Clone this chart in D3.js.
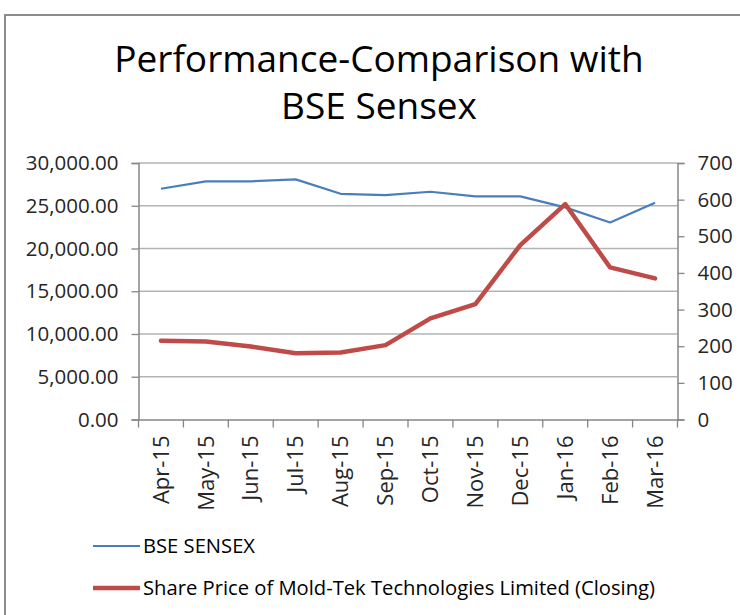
<!DOCTYPE html>
<html>
<head>
<meta charset="utf-8">
<script src="https://cdn.jsdelivr.net/npm/d3@7"></script>
<style>
  body { margin: 0; background: #fff; }
  svg { display: block; font-family: "Open Sans", sans-serif; }
</style>
</head>
<body>
<div id="chart"></div>
<script>
var months = ["Apr-15", "May-15", "Jun-15", "Jul-15", "Aug-15", "Sep-15",
              "Oct-15", "Nov-15", "Dec-15", "Jan-16", "Feb-16", "Mar-16"]
var sensex = [26990, 27860, 27860, 28090, 26400, 26250, 26640, 26100, 26100, 24810, 23050, 25350]
var sharePrice = [215, 213, 199, 181, 183, 203, 276, 315, 476, 588, 415, 385]
var leftTicks = [0, 5000, 10000, 15000, 20000, 25000, 30000]
var rightTicks = [0, 100, 200, 300, 400, 500, 600, 700]
var titleLines = ["Performance-Comparison with", "BSE Sensex"]
var seriesNames = ["BSE SENSEX", "Share Price of Mold-Tek Technologies Limited (Closing)"]

var w = 740, h = 615
var plotLeft = 138.5, plotRight = 677.5, plotTop = 163, plotBottom = 419.5
var blue = "#4a7ebb", red = "#be4b48", axisCol = "#868686", gridCol = "#b3b3b3"
var tickFont = 20.5

var svg = d3.select("#chart").append("svg")
  .attr("width", w)
  .attr("height", h)

// chart frame
svg.append("rect")
  .attr("x", 5).attr("y", 15)
  .attr("width", w + 20).attr("height", h + 20)
  .attr("fill", "none")
  .attr("stroke", "#8c8c8c")
  .attr("stroke-width", 2)

// title
svg.selectAll(".title")
  .data(titleLines)
  .enter().append("text")
  .attr("class", "title")
  .attr("x", 379)
  .attr("y", function(d, i) { return 72 + i * 47 })
  .attr("text-anchor", "middle")
  .attr("font-size", 37)
  .attr("fill", "#000")
  .text(function(d) { return d })

var x = d3.scaleBand().domain(months).range([plotLeft, plotRight])
var yL = d3.scaleLinear().domain([0, 30000]).range([plotBottom, plotTop])
var yR = d3.scaleLinear().domain([0, 700]).range([plotBottom, plotTop])

// gridlines
svg.append("g")
  .selectAll("line")
  .data(leftTicks.slice(1))
  .enter().append("line")
  .attr("x1", plotLeft).attr("x2", plotRight)
  .attr("y1", function(d) { return yL(d) })
  .attr("y2", function(d) { return yL(d) })
  .attr("stroke", gridCol)
  .attr("stroke-width", 1.3)

// left axis
var gl = svg.append("g")
  .attr("transform", "translate(" + plotLeft + ",0)")
  .call(d3.axisLeft(yL).tickValues(leftTicks).tickFormat(d3.format(",.2f")).tickSize(7).tickPadding(13))
gl.select(".domain").attr("stroke", axisCol).attr("stroke-width", 1.5)
gl.selectAll(".tick line").attr("stroke", axisCol).attr("stroke-width", 1.3)
gl.selectAll(".tick text").attr("font-size", tickFont).attr("fill", "#262626").attr("font-family", "Open Sans")

// right axis
var gr = svg.append("g")
  .attr("transform", "translate(" + plotRight + ",0)")
  .call(d3.axisRight(yR).tickValues(rightTicks).tickSize(7).tickPadding(13))
gr.select(".domain").attr("stroke", axisCol).attr("stroke-width", 1.5)
gr.selectAll(".tick line").attr("stroke", axisCol).attr("stroke-width", 1.3)
gr.selectAll(".tick text").attr("font-size", tickFont).attr("fill", "#262626").attr("font-family", "Open Sans")

// bottom axis: labels at band centers, ticks between categories
var gb = svg.append("g")
  .attr("transform", "translate(0," + plotBottom + ")")
  .call(d3.axisBottom(x).tickSize(0).tickPadding(0))
gb.select(".domain").attr("stroke", axisCol).attr("stroke-width", 1.5)
gb.selectAll(".tick text")
  .attr("font-size", 22)
  .attr("fill", "#262626")
  .attr("font-family", "Open Sans")
  .attr("text-anchor", "end")
  .attr("dy", "0.35em")
  .attr("transform", "translate(0,16) rotate(-90)")

gb.selectAll(".between")
  .data(months.concat(["end"]))
  .enter().append("line")
  .attr("class", "between")
  .attr("x1", function(d, i) { return plotLeft + i * x.bandwidth() })
  .attr("x2", function(d, i) { return plotLeft + i * x.bandwidth() })
  .attr("y1", 0).attr("y2", 8)
  .attr("stroke", axisCol).attr("stroke-width", 1.3)

var cx = function(d, i) { return x(months[i]) + x.bandwidth() / 2 }

svg.append("path")
  .datum(sensex)
  .attr("fill", "none")
  .attr("stroke", blue)
  .attr("stroke-width", 2.2)
  .attr("stroke-linejoin", "round")
  .attr("d", d3.line().x(cx).y(function(d) { return yL(d) }))

svg.append("path")
  .datum(sharePrice)
  .attr("fill", "none")
  .attr("stroke", red)
  .attr("stroke-width", 4.5)
  .attr("stroke-linejoin", "round")
  .attr("stroke-linecap", "round")
  .attr("d", d3.line().x(cx).y(function(d) { return yR(d) }))

// legend
var items = svg.append("g")
  .selectAll("g")
  .data(seriesNames)
  .enter().append("g")
  .attr("transform", function(d, i) { return "translate(93," + (546 + i * 42) + ")" })

items.append("line")
  .attr("x1", 0).attr("x2", 47)
  .attr("stroke", function(d, i) { return i === 0 ? blue : red })
  .attr("stroke-width", function(d, i) { return i === 0 ? 2.2 : 4.5 })

items.append("text")
  .attr("x", 50)
  .attr("dy", "0.35em")
  .attr("font-size", 20.2)
  .attr("fill", "#000")
  .text(function(d) { return d })
</script>
</body>
</html>
